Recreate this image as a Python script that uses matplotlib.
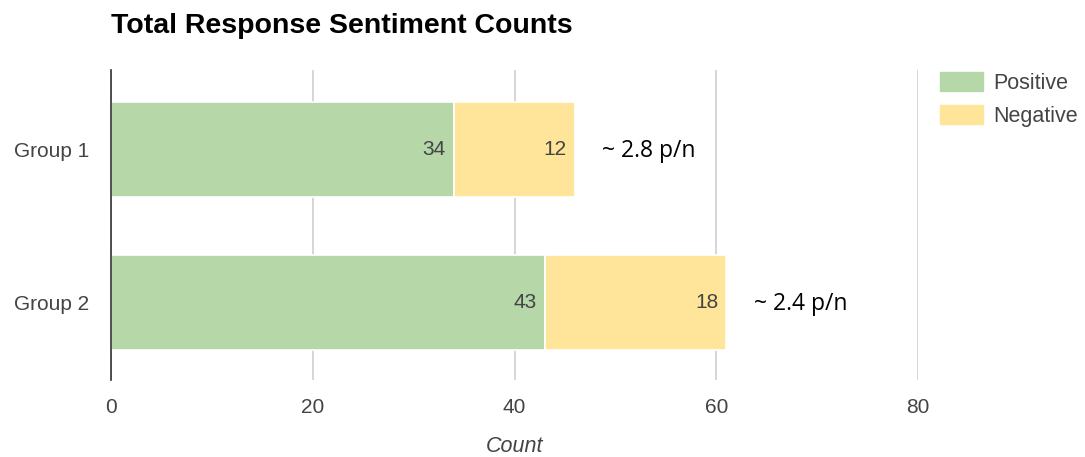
import matplotlib
matplotlib.use("Agg")
import matplotlib.pyplot as plt
from matplotlib.patches import Patch

groups = ["Group 1", "Group 2"]
positive = [34, 43]
negative = [12, 18]
ratio_labels = ["~ 2.8 p/n", "~ 2.4 p/n"]
x_ticks = [0, 20, 40, 60, 80]

green = "#b6d7a8"
yellow = "#ffe599"
text_gray = "#444444"

plt.rcParams["font.family"] = ["Liberation Sans", "DejaVu Sans"]

fig = plt.figure(figsize=(10.85, 4.57), dpi=100)
ax = fig.add_axes([111 / 1085, 1 - 380 / 457, (918 - 111) / 1085, 310 / 457])

ypos = list(range(len(groups)))
bar_h = 0.62
ax.barh(ypos, positive, height=bar_h, color=green, edgecolor="white", linewidth=1.2, zorder=3)
ax.barh(ypos, negative, left=positive, height=bar_h, color=yellow, edgecolor="white",
        linewidth=1.2, zorder=3)

for i in ypos:
    ax.text(positive[i] - 0.8, i, str(positive[i]), ha="right", va="center",
            fontsize=15, color=text_gray, zorder=4)
    total = positive[i] + negative[i]
    ax.text(total - 0.8, i, str(negative[i]), ha="right", va="center",
            fontsize=15, color=text_gray, zorder=4)
    ax.text(total + 2.7, i + 0.01, ratio_labels[i], ha="left", va="center",
            fontsize=16.5, color="black", family=["Open Sans", "DejaVu Sans"], zorder=4)

ax.set_xlim(0, 80)
ax.set_ylim(1.506, -0.52)
ax.set_xticks(x_ticks)
ax.set_xticklabels([str(t) for t in x_ticks], fontsize=15, color=text_gray)
ax.set_yticks(ypos)
ax.set_yticklabels(groups, fontsize=15, color=text_gray)
ax.tick_params(axis="both", length=0)
ax.tick_params(axis="x", pad=13)
ax.tick_params(axis="y", pad=16)
ax.grid(axis="x", color="#cccccc", linewidth=1.1, zorder=0)
for side in ["top", "right", "bottom"]:
    ax.spines[side].set_visible(False)
ax.spines["left"].set_color("#333333")
ax.spines["left"].set_linewidth(1.2)
ax.spines["left"].set_zorder(5)

ax.set_xlabel("Count", fontsize=15.5, style="italic", color=text_gray, va="center")
ax.xaxis.set_label_coords(0.5, (380 - 447) / 310)

fig.text(111 / 1085, 1 - 33 / 457, "Total Response Sentiment Counts", fontsize=20.5,
         fontweight="bold", color="black", ha="left", va="baseline")

handles = [Patch(facecolor=green, edgecolor=green), Patch(facecolor=yellow, edgecolor=yellow)]
fig.legend(handles, ["Positive", "Negative"], loc="upper left",
           bbox_to_anchor=(940 / 1085, 1 - 72 / 457), frameon=False, fontsize=15.5,
           labelcolor=text_gray, handlelength=2.0, handleheight=1.0, handletextpad=0.47,
           labelspacing=0.5, borderaxespad=0, borderpad=0)

fig.savefig("out.png", dpi=100)
